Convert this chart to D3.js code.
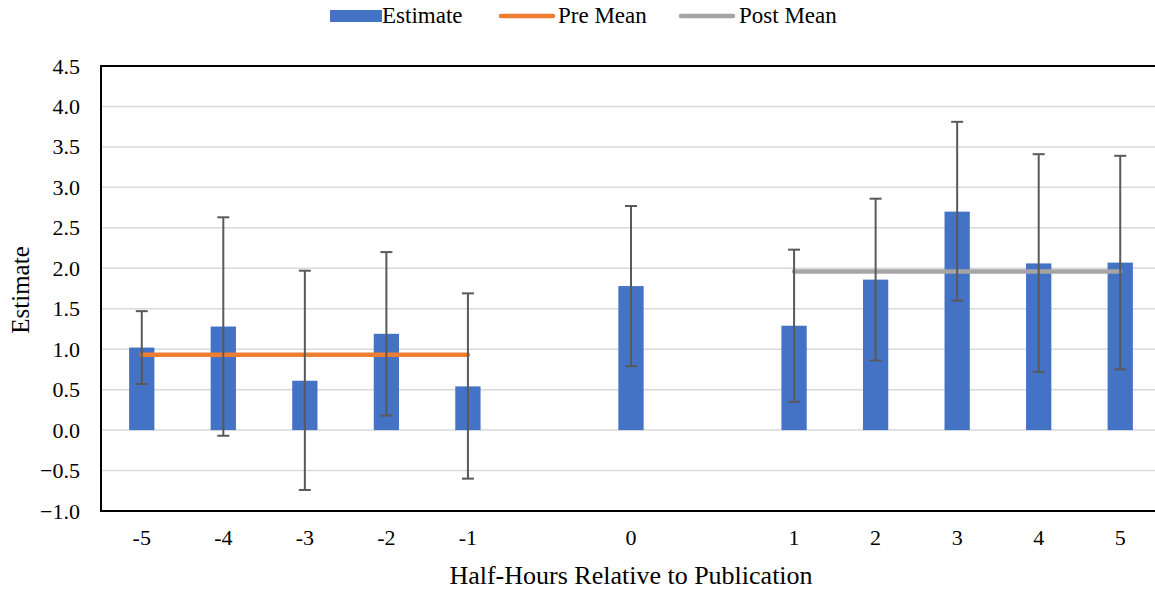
<!DOCTYPE html>
<html>
<head>
<meta charset="utf-8">
<script src="https://cdn.jsdelivr.net/npm/d3@7"></script>
<style>
  body { margin: 0; background: #fff; }
  svg { display: block; font-family: "Times New Roman", "Liberation Serif", "DejaVu Serif", serif; }
  svg text { font-family: "Times New Roman", "Liberation Serif", "DejaVu Serif", serif; }
</style>
</head>
<body>
<svg id="chart" width="1155" height="592"></svg>
<script>
// category keys (the two gaps are empty slots)
var cats = ["-5", "-4", "-3", "-2", "-1", "gapA", "0", "gapB", "1", "2", "3", "4", "5"];
var estimate = [1.02, 1.28, 0.61, 1.19, 0.54, null, 1.78, null, 1.29, 1.86, 2.70, 2.06, 2.07];
var errHigh  = [1.47, 2.63, 1.97, 2.20, 1.69, null, 2.77, null, 2.23, 2.86, 3.81, 3.41, 3.39];
var errLow   = [0.57, -0.07, -0.74, 0.18, -0.60, null, 0.79, null, 0.35, 0.86, 1.60, 0.72, 0.75];
var preMean  = [0.93, 0.93, 0.93, 0.93, 0.93, null, null, null, null, null, null, null, null];
var postMean = [null, null, null, null, null, null, null, null, 1.96, 1.96, 1.96, 1.96, 1.96];
var yTicks = [-1.0, -0.5, 0.0, 0.5, 1.0, 1.5, 2.0, 2.5, 3.0, 3.5, 4.0, 4.5];

var svg = d3.select("#chart");
var plotLeft = 101, plotRight = 1161, plotTop = 66, plotBottom = 511;

var x = d3.scaleBand().domain(cats).range([plotLeft, plotRight]).paddingInner(0.69).paddingOuter(0.345);
var y = d3.scaleLinear().domain([-1, 4.5]).range([plotBottom, plotTop]);
var cx = function(i) { return x(cats[i]) + x.bandwidth() / 2; };

// gridlines
svg.append("g").selectAll("line").data(yTicks).enter().append("line")
  .attr("x1", plotLeft).attr("x2", 1155)
  .attr("y1", function(d) { return y(d); }).attr("y2", function(d) { return y(d); })
  .style("stroke", "#d9d9d9").style("stroke-width", 1.5);

// y axis labels
var yAxis = d3.axisLeft(y).tickValues(yTicks).tickFormat(d3.format(".1f")).tickSize(0).tickPadding(21);
var gy = svg.append("g").attr("transform", "translate(" + plotLeft + ",0)").call(yAxis);
gy.attr("font-family", null);
gy.select(".domain").remove();
gy.selectAll("text").style("font-size", "22px").style("fill", "#000");

// x axis labels
var xAxis = d3.axisBottom(x).tickSize(0).tickPadding(18)
  .tickFormat(function(d) { return d.indexOf("gap") == 0 ? "" : d; });
var gx = svg.append("g").attr("transform", "translate(0," + plotBottom + ")").call(xAxis);
gx.attr("font-family", null);
gx.select(".domain").remove();
gx.selectAll("text").style("font-size", "22px").style("fill", "#000");

// bars
var idx = d3.range(cats.length).filter(function(i) { return estimate[i] != null; });
svg.append("g").selectAll("rect").data(idx).enter().append("rect")
  .attr("x", function(i) { return x(cats[i]); })
  .attr("width", x.bandwidth())
  .attr("y", function(i) { return Math.min(y(estimate[i]), y(0)); })
  .attr("height", function(i) { return Math.abs(y(0) - y(estimate[i])); })
  .style("fill", "#4472c4");

// mean lines
var meanLine = d3.line()
  .defined(function(d) { return d != null; })
  .x(function(d, i) { return cx(i); })
  .y(function(d) { return y(d); });
svg.append("path").datum(preMean).attr("d", meanLine)
  .style("fill", "none").style("stroke", "#ed7d31").style("stroke-width", 4.5).style("stroke-linecap", "round");
svg.append("path").datum(postMean).attr("d", meanLine)
  .style("fill", "none").style("stroke", "#a5a5a5").style("stroke-width", 4.5).style("stroke-linecap", "round");

// error bars
var eb = svg.append("g").style("stroke", "#595959").style("stroke-width", 2);
idx.forEach(function(i) {
  var c = cx(i);
  eb.append("line").attr("x1", c).attr("x2", c).attr("y1", y(errLow[i])).attr("y2", y(errHigh[i]));
  eb.append("line").attr("x1", c - 6).attr("x2", c + 6).attr("y1", y(errLow[i])).attr("y2", y(errLow[i]));
  eb.append("line").attr("x1", c - 6).attr("x2", c + 6).attr("y1", y(errHigh[i])).attr("y2", y(errHigh[i]));
});

// frame lines
var fr = svg.append("g").style("stroke", "#000").style("stroke-width", 2);
fr.append("line").attr("x1", plotLeft).attr("x2", 1155).attr("y1", plotTop).attr("y2", plotTop);
fr.append("line").attr("x1", plotLeft).attr("x2", 1155).attr("y1", plotBottom).attr("y2", plotBottom);
fr.append("line").attr("x1", plotLeft).attr("x2", plotLeft).attr("y1", plotTop - 1).attr("y2", plotBottom + 1);

// axis titles
svg.append("text").attr("x", 631).attr("y", 584).attr("text-anchor", "middle")
  .style("font-size", "26px").text("Half-Hours Relative to Publication");
svg.append("text").attr("transform", "translate(29,290) rotate(-90)").attr("text-anchor", "middle")
  .style("font-size", "25px").text("Estimate");

// legend
var lg = svg.append("g").style("font-size", "23px");
lg.append("rect").attr("x", 330).attr("y", 10).attr("width", 52).attr("height", 12).style("fill", "#4472c4");
lg.append("text").attr("x", 382).attr("y", 23).text("Estimate");
lg.append("line").attr("x1", 501).attr("x2", 553).attr("y1", 16).attr("y2", 16)
  .style("stroke", "#ed7d31").style("stroke-width", 4.5).style("stroke-linecap", "round");
lg.append("text").attr("x", 558).attr("y", 23).text("Pre Mean");
lg.append("line").attr("x1", 681).attr("x2", 733).attr("y1", 16).attr("y2", 16)
  .style("stroke", "#a5a5a5").style("stroke-width", 4.5).style("stroke-linecap", "round");
lg.append("text").attr("x", 739).attr("y", 23).text("Post Mean");
</script>
</body>
</html>
